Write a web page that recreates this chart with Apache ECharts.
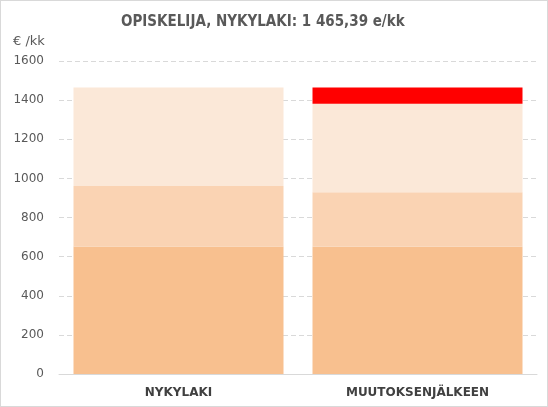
<!DOCTYPE html>
<html><head><meta charset="utf-8">
<script src="https://cdn.jsdelivr.net/npm/echarts@6/dist/echarts.min.js"></script>
<style>html,body{margin:0;padding:0;background:#fff}#c{width:548px;height:407px;box-sizing:border-box;border:1px solid #d9d9d9}</style>
</head><body><div id="c"></div>
<script>
var categories = ['NYKYLAKI', 'MUUTOKSENJÄLKEEN'];
var baseValues = [652, 650];
var midValues = [309, 279];
var topValues = [504, 452];
var redValues = ['-', 84];
var titleText = 'OPISKELIJA, NYKYLAKI: 1 465,39 e/kk';
var axisName = '€ /kk';

var chart = echarts.init(document.getElementById('c'), null, {renderer: 'canvas'});
function s(name, data, color) {
  return {name: name, type: 'bar', stack: 'a', data: data, barWidth: 210,
    itemStyle: {color: color}, emphasis: {disabled: true}, animation: false};
}
chart.setOption({
  animation: false,
  title: {text: titleText, left: 120, top: 14, padding: 0,
    textStyle: {fontFamily: '"DejaVu Sans Condensed"', fontSize: 15, fontWeight: 'bold', color: '#595959'}},
  graphic: [{type: 'text', left: 12, top: 34, style: {text: axisName, font: '13px "DejaVu Sans"', fill: '#595959'}}],
  grid: {left: 58, right: 10, top: 60, bottom: 32},
  xAxis: {type: 'category', data: categories,
    axisLine: {lineStyle: {color: '#d9d9d9'}}, axisTick: {show: false},
    axisLabel: {margin: 13, fontFamily: '"DejaVu Sans"', fontSize: 12, fontWeight: 'bold', color: '#404040'}},
  yAxis: {type: 'value', min: 0, max: 1600, interval: 200,
    axisLine: {show: false}, axisTick: {show: false},
    splitLine: {lineStyle: {color: '#d9d9d9', type: [5, 3]}},
    axisLabel: {margin: 15, fontFamily: '"DejaVu Sans"', fontSize: 12, color: '#595959',
      formatter: function (v) { return String(v); }}},
  series: [
    s('a', baseValues, '#F8C08F'),
    s('b', midValues, '#FAD3B3'),
    s('c', topValues, '#FBE8D8'),
    s('d', redValues, '#FF0000')
  ]
});
</script></body></html>
